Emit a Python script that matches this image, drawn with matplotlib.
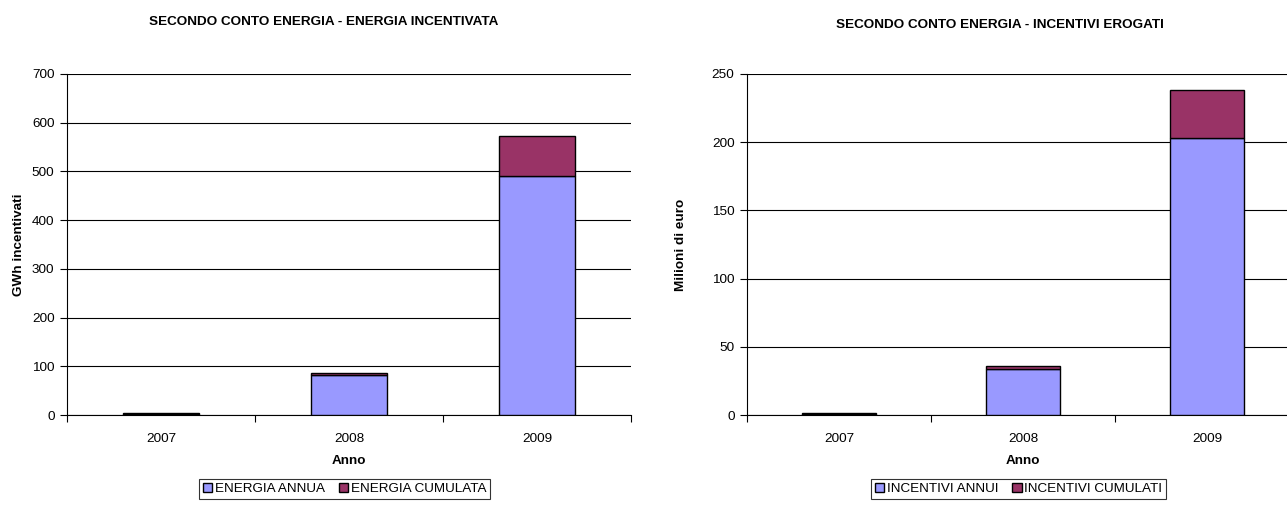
import matplotlib
matplotlib.use('Agg')
import matplotlib.pyplot as plt
import numpy as np

plt.rcParams['font.family'] = ['Liberation Sans', 'DejaVu Sans']

anni = ['2007', '2008', '2009']
energia_annua = [1.5, 82, 491]
energia_cumulata = [3, 4, 82]
incentivi_annui = [0.5, 34, 203]
incentivi_cumulati = [1, 2, 35]

blu = '#9999FF'
viola = '#993366'

fig = plt.figure(figsize=(12.87, 5.09), dpi=100)


def pannello(rect, annui, cumulati, ymax, ystep, ylabel, title, title_x, title_y, labels, leg_x, ypad):
    ax = fig.add_axes(rect)
    x = np.arange(len(anni))
    b1 = ax.bar(x, annui, width=0.4, color=blu, edgecolor='black', linewidth=1, zorder=3)
    b2 = ax.bar(x, cumulati, width=0.4, bottom=annui, color=viola, edgecolor='black', linewidth=1, zorder=3)
    ax.set_xlim(-0.5, 2.5)
    ax.set_ylim(0, ymax)
    ax.set_yticks(np.arange(0, ymax + 1, ystep))
    ax.set_xticks(x)
    ax.set_xticklabels(anni)
    ax.set_xticks([-0.5, 0.5, 1.5, 2.5], minor=True)
    ax.tick_params(axis='x', which='major', length=0, pad=13, labelsize=9.7)
    ax.tick_params(axis='x', which='minor', length=5, direction='out', width=0.8)
    ax.tick_params(axis='y', length=5, direction='out', width=0.8, labelsize=9.7, pad=4)
    ax.grid(axis='y', color='black', linewidth=0.8, zorder=0)
    for s in ['top', 'right']:
        ax.spines[s].set_visible(False)
    ax.spines['left'].set_linewidth(0.8)
    ax.spines['bottom'].set_linewidth(0.8)
    ax.set_xlabel('Anno', fontsize=9.7, fontweight='bold', labelpad=7)
    ax.set_ylabel(ylabel, fontsize=9.7, fontweight='bold', labelpad=ypad)
    fig.text(title_x, title_y, title, fontsize=9.7, fontweight='bold', ha='center', va='center')
    leg = fig.legend(handles=[b1.patches[0], b2.patches[0]], labels=labels,
                     loc='center left', bbox_to_anchor=(leg_x, 1 - 489 / 509), ncol=2, fontsize=9.7,
                     frameon=True, fancybox=False, edgecolor='black', handlelength=0.7, handleheight=0.7,
                     handletextpad=0.2, columnspacing=1.0, borderpad=0.3, borderaxespad=0)
    leg.get_frame().set_linewidth(0.8)
    return ax


pannello([67 / 1287, 94 / 509, 564 / 1287, 341 / 509], energia_annua, energia_cumulata, 700, 100,
         'GWh incentivati', 'SECONDO CONTO ENERGIA - ENERGIA INCENTIVATA', 324 / 1287, 1 - 22 / 509,
         ['ENERGIA ANNUA', 'ENERGIA CUMULATA'], 199 / 1287, 5)
pannello([747 / 1287, 94 / 509, 552 / 1287, 341 / 509], incentivi_annui, incentivi_cumulati, 250, 50,
         'Milioni di euro', 'SECONDO CONTO ENERGIA - INCENTIVI EROGATI', 1000 / 1287, 1 - 25 / 509,
         ['INCENTIVI ANNUI', 'INCENTIVI CUMULATI'], 871 / 1287, 18)

fig.savefig('out.png', dpi=100)
